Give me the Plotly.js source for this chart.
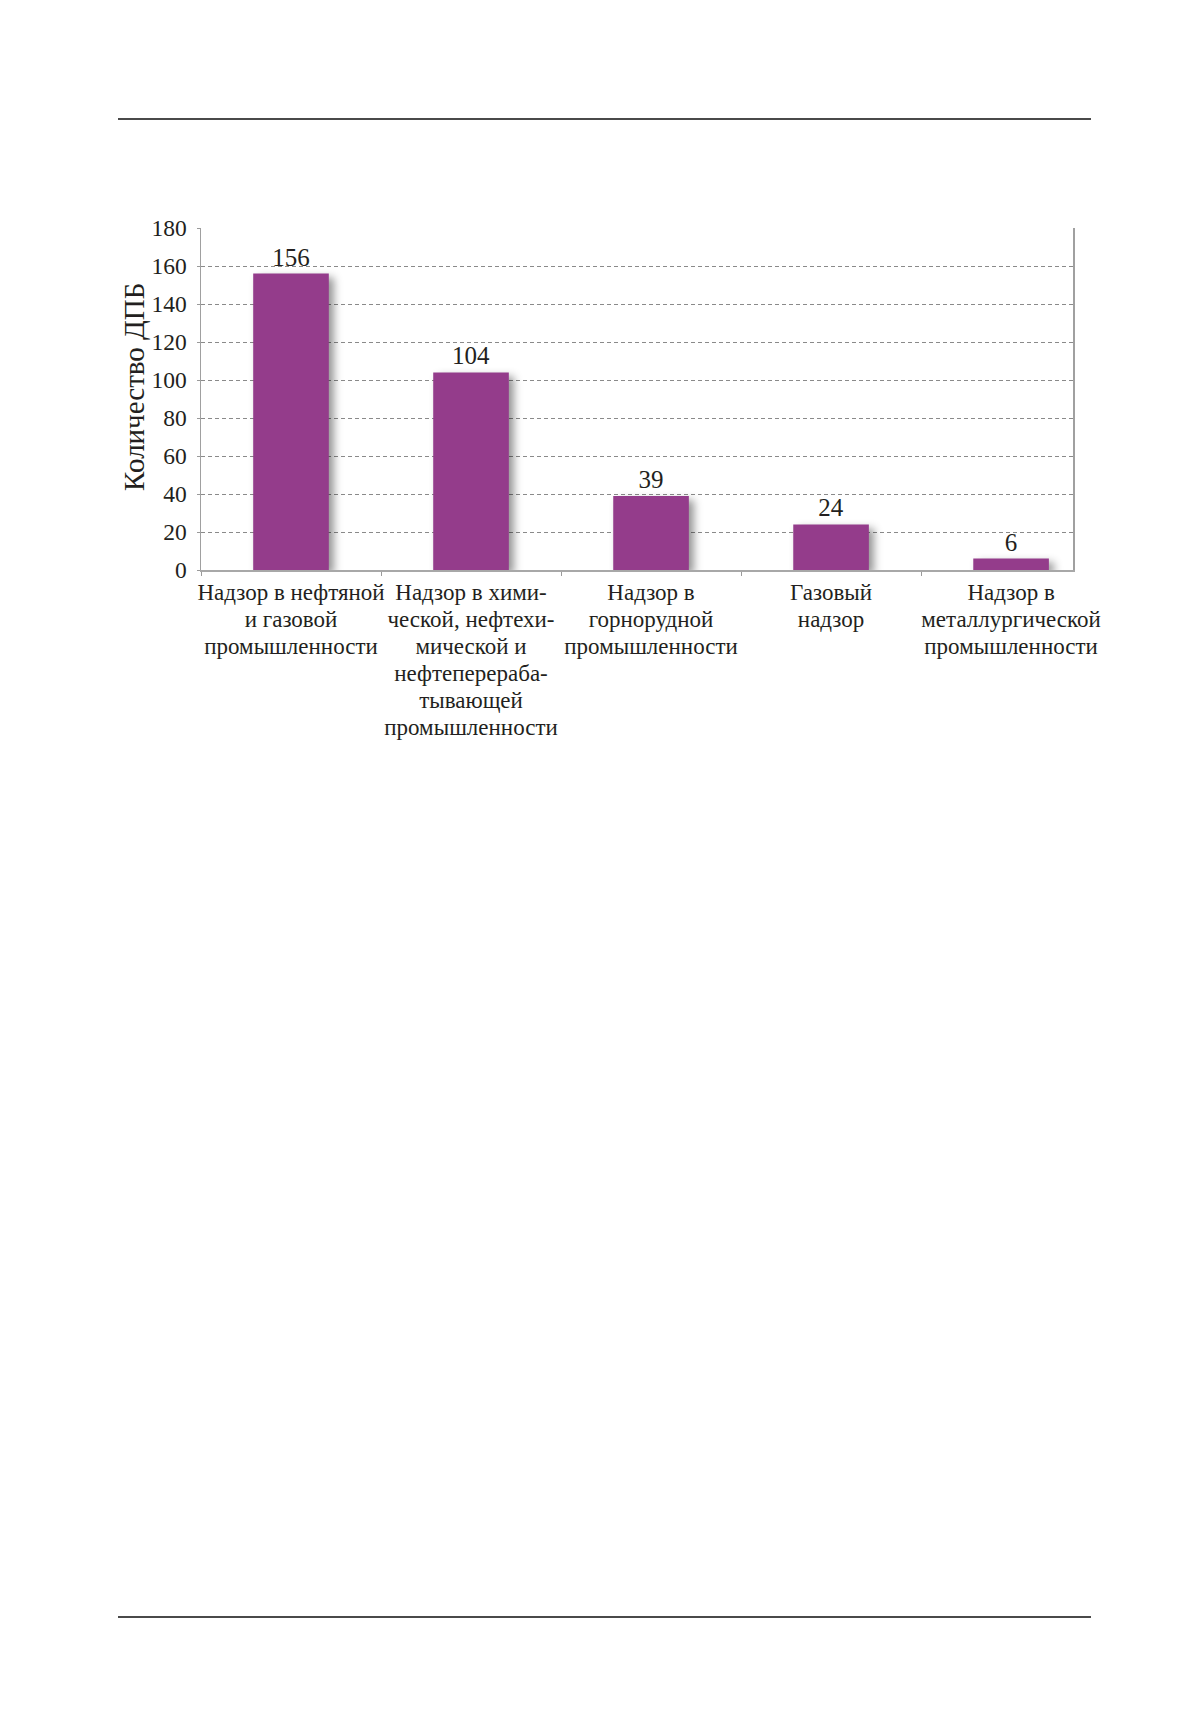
<!DOCTYPE html>
<html>
<head>
<meta charset="utf-8">
<script src="https://cdn.plot.ly/plotly-3.0.1.min.js"></script>
<style>
  body { margin: 0; background: #fff; }
  #page { position: relative; width: 1179px; height: 1712px; }
  #chart { position: absolute; left: 0; top: 0; width: 1179px; height: 1712px; }
  .rule { position: absolute; left: 118px; width: 973px; height: 2px; background: #4a4a4a; z-index: 2; }
  .js-plotly-plot .barlayer .point path { filter: drop-shadow(5px 4px 4px rgba(0,0,0,0.42)); }
</style>
</head>
<body>
<div id="page">
  <div id="chart"></div>
  <div class="rule" style="top:118px"></div>
  <div class="rule" style="top:1616px"></div>
</div>
<script>
var sectors = [
  "Надзор в нефтяной и газовой промышленности",
  "Надзор в химической, нефтехимической и нефтеперерабатывающей промышленности",
  "Надзор в горнорудной промышленности",
  "Газовый надзор",
  "Надзор в металлургической промышленности"
];
var sectorLabels = [
  "Надзор в нефтяной<br>и газовой<br>промышленности",
  "Надзор в хими-<br>ческой, нефтехи-<br>мической и<br>нефтеперераба-<br>тывающей<br>промышленности",
  "Надзор в<br>горнорудной<br>промышленности",
  "Газовый<br>надзор",
  "Надзор в<br>металлургической<br>промышленности"
];
var dpbCount = [156, 104, 39, 24, 6];
var yTicks = [0, 20, 40, 60, 80, 100, 120, 140, 160, 180];

var serif = "'Liberation Serif', 'DejaVu Serif', serif";
var ink = "#231f20";

var trace = {
  x: sectors,
  y: dpbCount,
  type: 'bar',
  marker: { color: '#943c8b' },
  text: dpbCount.map(String),
  textposition: 'outside',
  textfont: { family: serif, size: 25, color: ink },
  cliponaxis: false,
  hoverinfo: 'none'
};

var layout = {
  width: 1179,
  height: 1712,
  margin: { l: 201, r: 106, t: 228, b: 1142 },
  paper_bgcolor: '#fff',
  plot_bgcolor: '#fff',
  showlegend: false,
  bargap: 0.58,
  font: { family: serif, size: 23, color: ink },
  xaxis: {
    type: 'category',
    range: [-0.5, 4.344],
    tickmode: 'array',
    tickvals: sectors,
    ticktext: sectorLabels,
    tickson: 'boundaries',
    ticks: 'outside',
    ticklen: 4,
    tickcolor: '#9a9a9a',
    showline: true,
    linecolor: '#a8a8a8',
    linewidth: 1.5,
    showgrid: false,
    zeroline: false,
    tickangle: 0,
    ticklabelstandoff: 1,
    tickfont: { family: serif, size: 23, color: ink }
  },
  yaxis: {
    range: [0, 180],
    tickmode: 'array',
    tickvals: yTicks,
    ticks: 'outside',
    ticklen: 3,
    tickcolor: '#9a9a9a',
    showline: true,
    mirror: true,
    linecolor: '#a0a0a0',
    linewidth: 1.5,
    showgrid: true,
    gridcolor: '#8a8a8a',
    gridwidth: 1,
    griddash: '4px,3px',
    zeroline: false,
    ticklabelstandoff: 5,
    tickfont: { family: serif, size: 23.5, color: ink }
  },
  // axis title sits a little above the plot centre, so it is an annotation
  annotations: [{
    text: 'Количество ДПБ',
    xref: 'paper', yref: 'paper',
    x: -0.077, y: 0.535,
    xanchor: 'center', yanchor: 'middle',
    textangle: -90,
    showarrow: false,
    font: { family: serif, size: 29, color: ink }
  }]
};

Plotly.newPlot('chart', [trace], layout, { staticPlot: true }).then(function() {
  // tighten line spacing of the multi-line category labels
  document.querySelectorAll('.xtick text tspan.line').forEach(function(t) {
    var dy = parseFloat(t.getAttribute('dy'));
    if (dy) {
      t.setAttribute('dy', (dy * 0.903) + 'em');
    }
  });
});
</script>
</body>
</html>
